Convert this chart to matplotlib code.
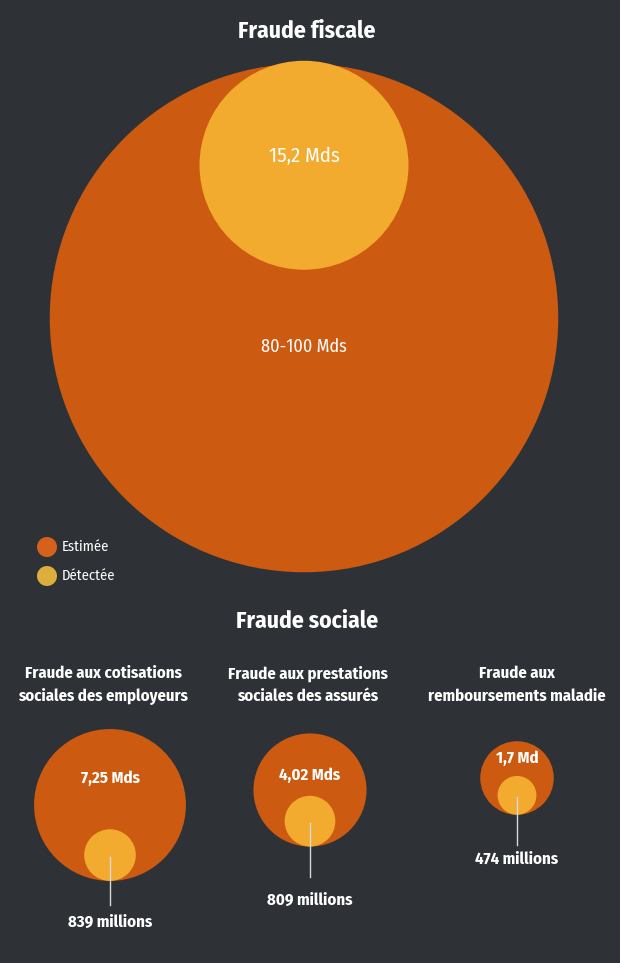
import matplotlib.pyplot as plt
from matplotlib.patches import Circle
import numpy as np

# Fraude fiscale (en milliards d'euros)
fiscal_labels = ["Estimée", "Détectée"]
fiscal_values = [90, 15.2]          # estimée : milieu de la fourchette 80-100
fiscal_texts = ["80-100 Mds", "15,2 Mds"]

# Fraude sociale (en milliards d'euros)
social_categories = ["Fraude aux cotisations\nsociales des employeurs",
                     "Fraude aux prestations\nsociales des assurés",
                     "Fraude aux\nremboursements maladie"]
social_estimated = [7.25, 4.02, 1.7]
social_detected = [0.839, 0.809, 0.474]
social_est_texts = ["7,25 Mds", "4,02 Mds", "1,7 Md"]
social_det_texts = ["839 millions", "809 millions", "474 millions"]

bg = "#2e3236"
c_est = "#cc5a10"
c_det = "#f2ab2e"
plt.rcParams['font.family'] = ["Fira Sans Condensed", "DejaVu Sans"]

fig = plt.figure(figsize=(6.2, 9.63), dpi=100, facecolor=bg)
ax = fig.add_axes([0, 0, 1, 1])
ax.set_facecolor(bg)
ax.set_xlim(0, 620)
ax.set_ylim(963, 0)
ax.set_aspect('equal')
ax.axis('off')

# --- fraude fiscale ---
ax.text(307, 31, "Fraude fiscale", color="white", fontsize=17, fontweight="bold",
        ha="center", va="center")
k_top = 26.8
r_big = k_top * np.sqrt(fiscal_values[0])
r_small = k_top * np.sqrt(fiscal_values[1])
cx, cy = 304, 318
ax.add_patch(Circle((cx, cy), r_big, color=c_est, lw=0))
top = cy - r_big
ax.add_patch(Circle((cx, top + r_small - 3), r_small, color=c_det, lw=0))
ax.text(cx, 347, fiscal_texts[0], color="white", fontsize=13, ha="center", va="center")
ax.text(cx, 156, fiscal_texts[1], color="white", fontsize=15, ha="center", va="center")

# légende
for i, (lab, col) in enumerate(zip(fiscal_labels, ["#d4621a", "#dcae3c"])):
    y = 547 + i * 29
    ax.add_patch(Circle((47, y), 10, color=col, lw=0))
    ax.text(62, y, lab, color="white", fontsize=10.5, ha="left", va="center")

# --- fraude sociale ---
ax.text(307, 621, "Fraude sociale", color="white", fontsize=17, fontweight="bold",
        ha="center", va="center")
k_bot = 28.2
col_x = [110, 310, 517]
title_x = [103, 308, 517]
est_cy = [805, 790, 778]
est_lab_y = [778, 775, 758]
line_end = [905, 877, 845]
det_lab_y = [922, 900, 859]

for i in range(3):
    ax.text(title_x[i], 685, social_categories[i], color="white", fontsize=12,
            fontweight="bold", ha="center", va="center", linespacing=1.55)
    re = k_bot * np.sqrt(social_estimated[i])
    rd = k_bot * np.sqrt(social_detected[i])
    ax.add_patch(Circle((col_x[i], est_cy[i]), re, color=c_est, lw=0))
    dcy = est_cy[i] + re - rd
    ax.add_patch(Circle((col_x[i], dcy), rd, color=c_det, lw=0))
    ax.plot([col_x[i], col_x[i]], [dcy + 2, line_end[i]], color="#d8d8d8", lw=1)
    ax.text(col_x[i], est_lab_y[i], social_est_texts[i], color="white", fontsize=12,
            fontweight="bold", ha="center", va="center")
    ax.text(col_x[i], det_lab_y[i], social_det_texts[i], color="white", fontsize=12,
            fontweight="bold", ha="center", va="center")

fig.savefig("out.png", dpi=100, facecolor=bg)
